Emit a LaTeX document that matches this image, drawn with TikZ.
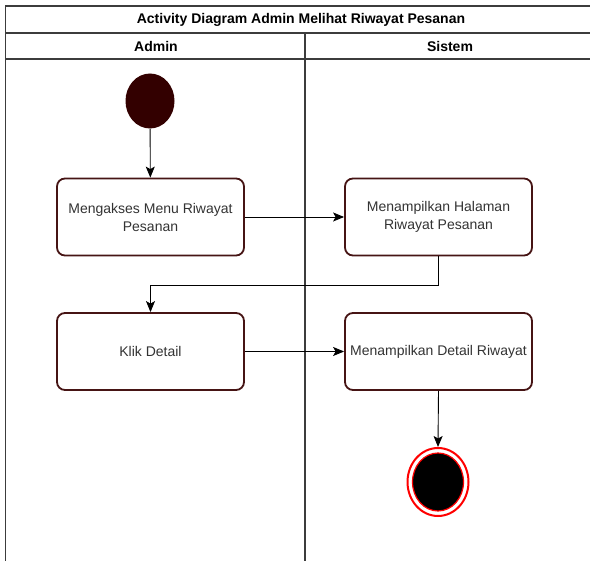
\documentclass[tikz,border=0pt]{standalone}
\usepackage{fontspec}
\setmainfont{Liberation Sans}
\usetikzlibrary{shapes.geometric,arrows.meta}
\definecolor{maroon}{RGB}{70,20,20}
\definecolor{startfill}{RGB}{51,0,0}
\definecolor{lanegray}{RGB}{60,60,60}
\definecolor{txtgray}{RGB}{51,51,51}
\begin{document}
\begin{tikzpicture}[x=1pt,y=-1pt,
  lane/.style={draw=lanegray,line width=1.4pt},
  heading/.style={font=\fontsize{14}{16}\selectfont\bfseries,text=black,inner sep=0pt},
  activity/.style={draw=maroon,line width=1.8pt,rounded corners=8pt,fill=white,
    minimum width=187pt,minimum height=77pt,align=center,text=txtgray,
    font=\fontsize{14}{18}\selectfont,inner sep=2pt},
  flow/.style={draw=black,line width=0.9pt,-{Stealth[length=11pt,width=9pt,inset=2.5pt]}},
  plain/.style={draw=black,line width=0.9pt}]
\useasboundingbox (0,0) rectangle (590,561);
\fill[white] (0,0) rectangle (590,561);

% swimlane frame
\draw[lane] (5.5,565) -- (5.5,6) -- (595,6);
\draw[lane] (5.5,33) -- (595,33);
\draw[lane] (5.5,59) -- (595,59);
\draw[lane] (305,33) -- (305,565);

\node[heading] (title) at (301,19.5) {Activity Diagram Admin Melihat Riwayat Pesanan};
\node[heading] (laneA) at (156,46) {Admin};
\node[heading] (laneS) at (450,46) {Sistem};

% start state
\node[ellipse,fill=startfill,minimum width=49pt,minimum height=55pt,inner sep=0pt] (start) at (150,101) {};

% activities
\node[activity] (a1) at (150.5,217) {Mengakses Menu Riwayat\\Pesanan};
\node[activity] (a2) at (438.5,217) {Menampilkan Halaman\\Riwayat Pesanan};
\node[activity] (a3) at (150.5,351.5) {Klik Detail};
\node[activity] (a4) at (438.5,351.5) {Menampilkan Detail Riwayat};

% end state: red ring around a red-edged black disc
\node[ellipse,draw=red,line width=2pt,fill=white,minimum width=61pt,minimum height=68pt,inner sep=0pt] (end) at (438,482) {};
\node[ellipse,draw=red,line width=1.2pt,fill=black,minimum width=51pt,minimum height=58pt,inner sep=0pt] (endcore) at (438,482) {};

% transitions
\coordinate (elbow) at (438.5,285);
\draw[flow] (start) -- (a1);
\draw[flow] (a1.east) -- (a2.west);
\draw[flow] (a2.south) -- (elbow) -| (a3.north);
\draw[flow] (a3.east) -- (a4.west);
\draw[flow] (a4.south) -- (end.north);
\end{tikzpicture}
\end{document}
